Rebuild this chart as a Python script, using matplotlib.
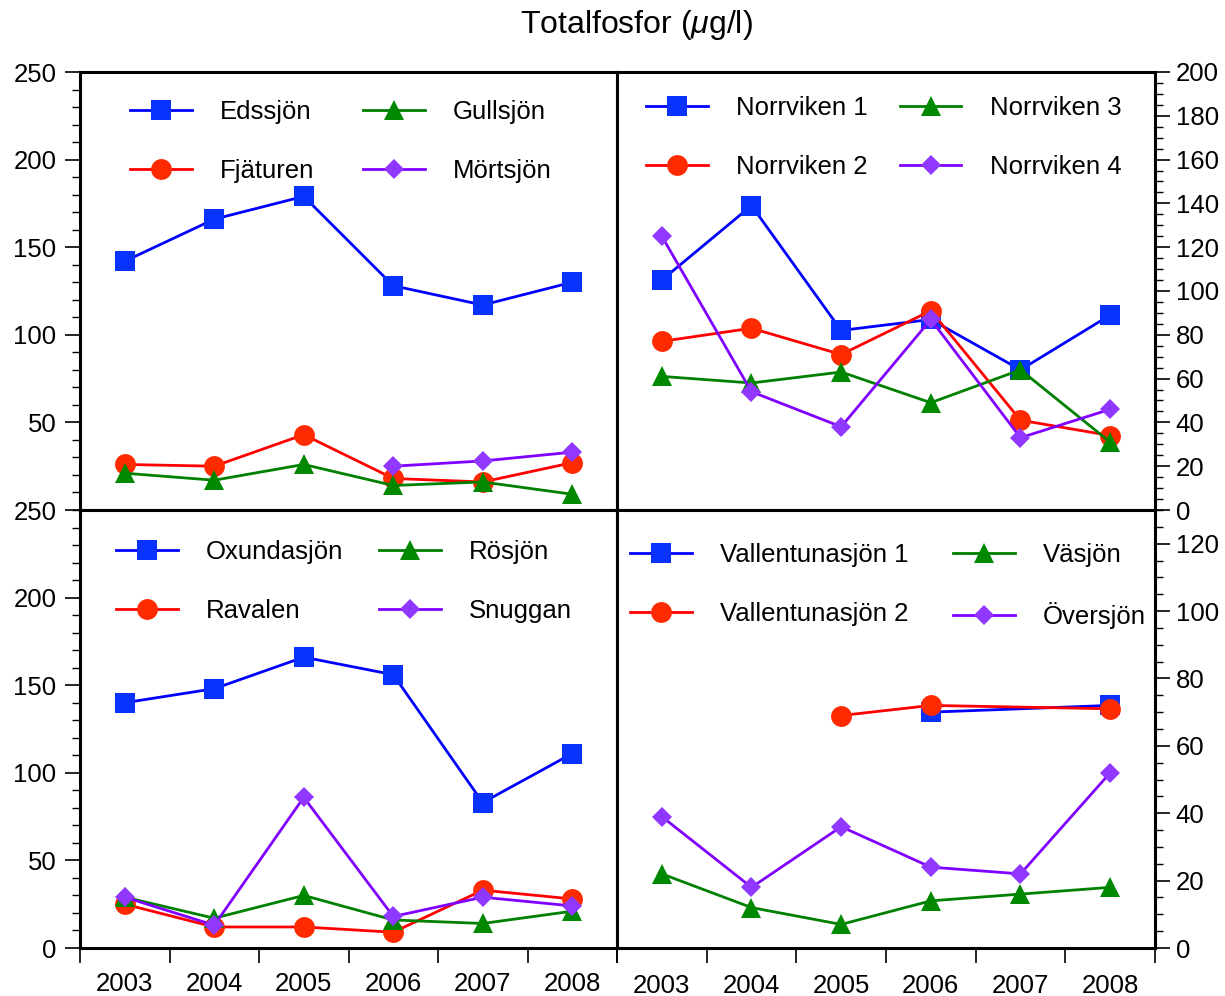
import numpy as np
import matplotlib
matplotlib.use('Agg')
import matplotlib.pyplot as plt
from matplotlib.ticker import MultipleLocator, FixedLocator, FixedFormatter, NullFormatter

plt.rcParams['font.family'] = 'Liberation Sans'
plt.rcParams['mathtext.fontset'] = 'custom'
plt.rcParams['mathtext.rm'] = 'Liberation Sans'
plt.rcParams['mathtext.it'] = 'Liberation Sans:italic'

nan = np.nan
years = [2003, 2004, 2005, 2006, 2007, 2008]

# Totalfosfor (ug/l), en serie per sjö
edssjon = [142, 166, 179, 128, 117, 130]
fjaturen = [26, 25, 43, 18, 16, 27]
gullsjon = [21, 17, 26, 14, 16, 9]
mortsjon = [nan, nan, nan, 25, 28, 33]

norrviken1 = [105, 139, 82, 87, 64, 89]
norrviken2 = [77, 83, 71, 91, 41, 34]
norrviken3 = [61, 58, 63, 49, 64, 31]
norrviken4 = [125, 54, 38, 87, 33, 46]

oxundasjon = [140, 148, 166, 156, 83, 111]
ravalen = [25, 12, 12, 9, 33, 28]
rosjon = [29, 17, 30, 16, 14, 21]
snuggan = [29, 13, 86, 18, 29, 24]

vallentuna1 = [nan, nan, nan, 70, nan, 72]
vallentuna2 = [nan, nan, 69, 72, nan, 71]
vasjon = [22, 12, 7, 14, 16, 18]
oversjon = [39, 18, 36, 24, 22, 52]

# linjefärg, markörfärg, markör, markörstorlek
styles = [
    ('#0000ff', '#0a32ff', 's', 14.5),
    ('#ff0000', '#ff2a00', 'o', 15),
    ('#008000', '#008800', '^', 15),
    ('#8000ff', '#9038ff', 'D', 10),
]

FS = 18.5

fig = plt.figure(figsize=(12.25, 9.96), dpi=100)

W, H = 1225, 996
def box(x0, y0, x1, y1):
    return [x0 / W, 1 - y1 / H, (x1 - x0) / W, (y1 - y0) / H]

ax_tl = fig.add_axes(box(80, 72, 617, 510))
ax_tr = fig.add_axes(box(617, 72, 1155, 510))
ax_bl = fig.add_axes(box(80, 510, 617, 948))
ax_br = fig.add_axes(box(617, 510, 1155, 948))

panels = [
    (ax_tl, [('Edssjön', edssjon), ('Fjäturen', fjaturen),
             ('Gullsjön', gullsjon), ('Mörtsjön', mortsjon)],
     (0.093, 0.936), 1.9),
    (ax_tr, [('Norrviken 1', norrviken1), ('Norrviken 2', norrviken2),
             ('Norrviken 3', norrviken3), ('Norrviken 4', norrviken4)],
     (0.054, 0.946), 1.25),
    (ax_bl, [('Oxundasjön', oxundasjon), ('Ravalen', ravalen),
             ('Rösjön', rosjon), ('Snuggan', snuggan)],
     (0.067, 0.931), 1.4),
    (ax_br, [('Vallentunasjön 1', vallentuna1), ('Vallentunasjön 2', vallentuna2),
             ('Väsjön', vasjon), ('Översjön', oversjon)],
     (0.024, 0.924), 1.75),
]

for ax, series, anchor, colspace in panels:
    for (label, vals), (lc, mc, mk, ms) in zip(series, styles):
        v = np.array(vals, dtype=float)
        ok = ~np.isnan(v)
        x = np.array(years)[ok]
        ax.plot(x, v[ok], color=lc, lw=2.0, marker=mk, ms=ms,
                markerfacecolor=mc, markeredgewidth=0, label=label)
    ax.legend(ncol=2, frameon=False, loc='upper left', bbox_to_anchor=anchor,
              borderaxespad=0, borderpad=0, fontsize=FS, handlelength=2.4,
              handletextpad=1.1, labelspacing=1.36, columnspacing=colspace,
              numpoints=1)

    ax.set_xlim(2002.5, 2008.5)
    ax.xaxis.set_major_locator(FixedLocator(np.arange(2002.5, 2009, 1)))
    ax.xaxis.set_major_formatter(NullFormatter())
    ax.xaxis.set_minor_locator(FixedLocator(years))
    ax.xaxis.set_minor_formatter(FixedFormatter([str(y) for y in years]))
    for s in ax.spines.values():
        s.set_linewidth(2.2)

for ax in (ax_tl, ax_tr):
    ax.tick_params(axis='x', which='both', bottom=False, labelbottom=False)

for ax, pad in ((ax_bl, 17), (ax_br, 19)):
    ax.tick_params(axis='x', which='major', length=11, width=1.2, direction='out')
    ax.tick_params(axis='x', which='minor', length=0, pad=pad, labelsize=FS)

# vänster axel, 0-250
for ax in (ax_tl, ax_bl):
    ax.set_ylim(0, 250)
    ax.yaxis.set_minor_locator(MultipleLocator(10))
    ax.tick_params(axis='y', which='major', length=11, width=1.2, pad=6, labelsize=FS)
    ax.tick_params(axis='y', which='minor', length=5.5, width=1.0)
ax_tl.set_yticks([50, 100, 150, 200, 250])
ax_bl.set_yticks([0, 50, 100, 150, 200, 250])

# höger axel
ax_tr.set_ylim(0, 200)
ax_tr.set_yticks(np.arange(0, 201, 20))
ax_br.set_ylim(0, 130)
ax_br.set_yticks(np.arange(0, 121, 20))
for ax in (ax_tr, ax_br):
    ax.yaxis.tick_right()
    ax.yaxis.set_minor_locator(MultipleLocator(5))
    ax.tick_params(axis='y', which='major', length=11, width=1.2, pad=4, labelsize=FS)
    ax.tick_params(axis='y', which='minor', length=5.5, width=1.0)

fig.text(636 / W, 1 - 25 / H, 'Totalfosfor ($\\mu$g/l)', ha='center', va='center',
         fontsize=23)

fig.savefig('out.png', dpi=100)
